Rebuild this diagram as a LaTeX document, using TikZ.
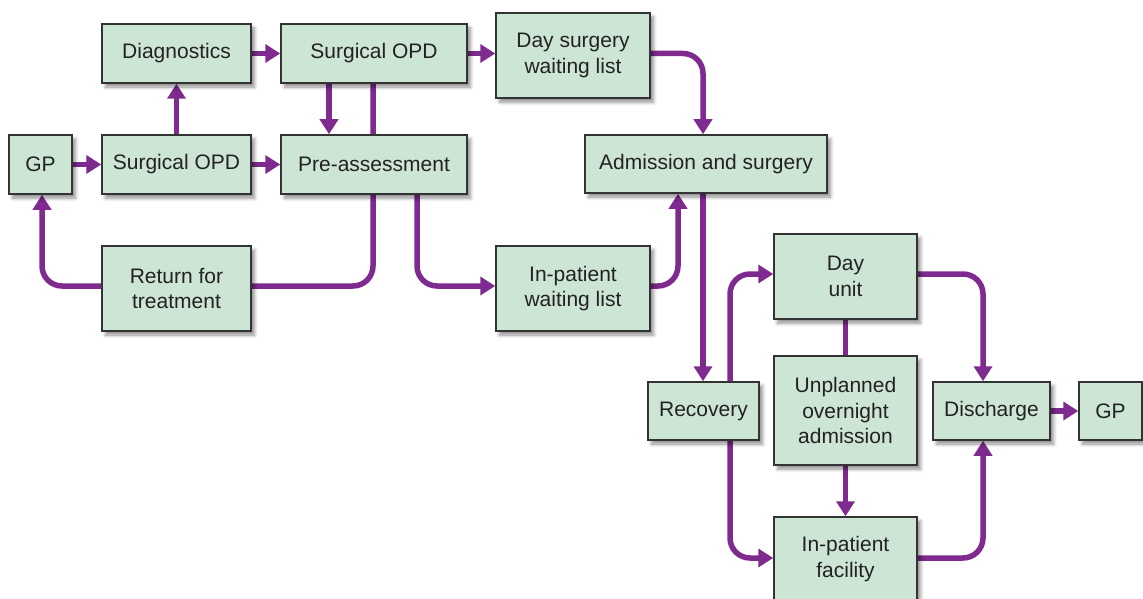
\documentclass[tikz,border=0pt]{standalone}
\usepackage{fontspec}
\setmainfont{Liberation Sans}
\usetikzlibrary{arrows.meta,shadows.blur,backgrounds}
\definecolor{boxfill}{RGB}{204,229,213}
\definecolor{flowpurple}{RGB}{126,42,142}
\definecolor{boxedge}{RGB}{51,51,51}
\definecolor{boxtext}{RGB}{34,34,34}
\tikzset{
  stage/.style={draw=boxedge, line width=1.5pt, fill=boxfill, inner sep=0pt,
    align=center, text=boxtext, font=\fontsize{21}{25.5}\selectfont,
    blur shadow={shadow xshift=3.5pt, shadow yshift=-4pt,
      shadow blur steps=6, shadow opacity=45, shadow blur radius=3.5pt}},
  link/.style={draw=flowpurple, line width=5.5pt, rounded corners=20pt},
  flow/.style={link, -{Triangle[width=18pt 0,length=15pt 0]}},
}
\begin{document}
\begin{tikzpicture}[x=1pt,y=-1pt]
\useasboundingbox (0,0) rectangle (1143,599);

% pathway stages
\node[stage, minimum width=63pt,  minimum height=59pt]  (gp1)   at (40.5,164.5)  {GP};
\node[stage, minimum width=149pt, minimum height=59pt]  (sopd1) at (176.5,164.5) {Surgical OPD};
\node[stage, minimum width=149pt, minimum height=59pt]  (diag)  at (176.5,53.5)  {Diagnostics};
\node[stage, minimum width=186pt, minimum height=59pt]  (sopd2) at (374,53.5)    {Surgical OPD};
\node[stage, minimum width=186pt, minimum height=59pt]  (pre)   at (374,164.5)   {Pre-assessment};
\node[stage, minimum width=154pt, minimum height=85pt]  (dswl)  at (573,55.5)    {Day surgery\\waiting list};
\node[stage, minimum width=242pt, minimum height=58pt]  (adm)   at (706,164)     {Admission and surgery};
\node[stage, minimum width=149pt, minimum height=85pt]  (ret)   at (176.5,288.5) {Return for\\treatment};
\node[stage, minimum width=154pt, minimum height=85pt]  (ipwl)  at (573,288.5)   {In-patient\\waiting list};
\node[stage, minimum width=143pt, minimum height=85pt]  (day)   at (845.5,276.5) {Day\\unit};
\node[stage, minimum width=111pt, minimum height=58pt]  (rec)   at (703.5,411)   {Recovery};
\node[stage, minimum width=143pt, minimum height=109pt] (unp)   at (845.5,410.5) {Unplanned\\overnight\\admission};
\node[stage, minimum width=117pt, minimum height=58pt]  (dis)   at (991.5,411)   {Discharge};
\node[stage, minimum width=63pt,  minimum height=58pt]  (gp2)   at (1110.5,411)  {GP};
\node[stage, minimum width=143pt, minimum height=84pt]  (ipf)   at (845.5,559)   {In-patient\\facility};

% connectors, drawn beneath the stages
\begin{pgfonlayer}{background}
\draw[flow] (gp1) -- (sopd1);
\draw[flow] (sopd1) -- (pre);
\draw[flow] (sopd1) -- (diag);
\draw[flow] (diag) -- (sopd2);
\draw[flow] (sopd2.east) -- (sopd2.east -| dswl.west);
\draw[flow] ([xshift=-45pt]sopd2.south) -- ([xshift=-45pt]pre.north);
\draw[link] ([xshift=-1pt]sopd2.south) |- ([yshift=2.5pt]ret.east);
\draw[flow] ([xshift=43pt]pre.south) |- ([yshift=2.5pt]ipwl.west);
\draw[flow] ([yshift=2pt]dswl.east) -| ([xshift=-3pt]adm.north);
\draw[flow] ([yshift=2.5pt]ipwl.east) -| ([xshift=-28pt]adm.south);
\draw[flow] ([xshift=-3pt]adm.south) -- ([xshift=-3pt]adm.south |- rec.north);
\draw[flow] ([xshift=26.5pt]rec.north) |- ([yshift=2.5pt]day.west);
\draw[flow] ([xshift=26.5pt]rec.south) |- ([yshift=1pt]ipf.west);
\draw[link] (day) -- (unp);
\draw[flow] (unp) -- (ipf);
\draw[flow] ([yshift=2.5pt]day.east) -| ([xshift=-8.5pt]dis.north);
\draw[flow] ([yshift=1pt]ipf.east) -| ([xshift=-8.5pt]dis.south);
\draw[flow] (dis) -- (gp2);
\draw[flow] ([yshift=2.5pt]ret.west) -| ([xshift=1.5pt]gp1.south);
\end{pgfonlayer}
\end{tikzpicture}
\end{document}
